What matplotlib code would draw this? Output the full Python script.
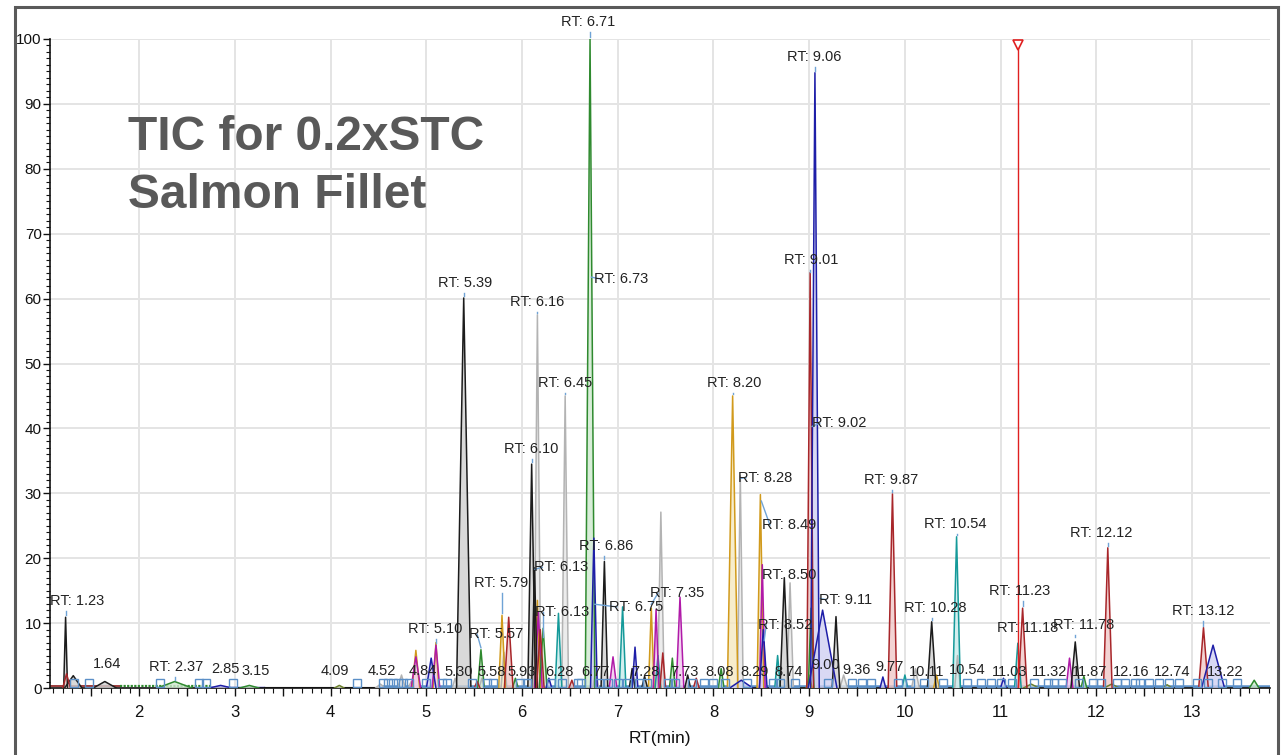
import matplotlib
matplotlib.use("Agg")
import matplotlib.pyplot as plt
from matplotlib.ticker import MultipleLocator, FuncFormatter
from matplotlib.patches import Rectangle
from matplotlib import font_manager

# ---------------- data: chromatogram peaks (apex RT, relative abundance, half base width) ----------------
black_rt = [1.23, 1.31, 1.64, 5.39, 6.10, 6.13, 6.86, 7.15, 7.28, 7.73, 8.74, 9.28, 10.28, 11.78]
black_h = [10.9, 1.9, 1.0, 60.1, 34.5, 18.5, 19.5, 3.0, 1.8, 2.0, 17.0, 11.0, 10.2, 7.1]
black_w = [0.02, 0.09, 0.12, 0.075, 0.04, 0.03, 0.035, 0.03, 0.03, 0.03, 0.045, 0.04, 0.045, 0.045]

red_rt = [1.24, 5.53, 5.86, 6.19, 6.52, 7.47, 7.82, 9.01, 9.87, 11.23, 12.12, 13.12]
red_h = [2.2, 1.0, 10.9, 9.0, 1.2, 5.4, 1.5, 64.0, 29.9, 12.3, 21.6, 9.3]
red_w = [0.04, 0.03, 0.045, 0.04, 0.03, 0.03, 0.03, 0.035, 0.045, 0.045, 0.045, 0.05]

navy_rt = [2.85, 5.05, 6.28, 6.75, 7.18, 8.29, 8.52, 9.06, 9.14, 9.77, 11.03, 13.22]
navy_h = [0.4, 4.6, 1.5, 23.1, 6.3, 1.2, 9.0, 94.8, 12.0, 1.7, 1.5, 6.6]
navy_w = [0.12, 0.05, 0.03, 0.035, 0.03, 0.12, 0.04, 0.045, 0.15, 0.03, 0.03, 0.12]

green_rt = [2.37, 3.15, 5.57, 5.93, 6.22, 6.71, 7.57, 8.08, 9.02, 11.87, 13.65]
green_h = [1.0, 0.4, 5.9, 1.5, 9.2, 100.0, 4.6, 3.0, 12.3, 1.8, 1.2]
green_w = [0.18, 0.10, 0.035, 0.03, 0.04, 0.05, 0.03, 0.03, 0.03, 0.03, 0.05]

magenta_rt = [4.89, 5.10, 6.17, 6.95, 7.40, 7.65, 8.51, 11.72]
magenta_h = [4.8, 6.6, 11.7, 4.8, 12.1, 14.0, 19.0, 4.6]
magenta_w = [0.05, 0.04, 0.04, 0.04, 0.03, 0.04, 0.03, 0.035]

orange_rt = [4.89, 5.10, 5.79, 6.16, 7.35, 8.20, 8.49, 9.00, 10.33]
orange_h = [5.8, 7.0, 11.2, 13.5, 12.3, 45.0, 29.8, 2.0, 2.0]
orange_w = [0.04, 0.03, 0.035, 0.03, 0.03, 0.055, 0.035, 0.03, 0.03]

gray_rt = [4.52, 4.74, 4.84, 5.30, 5.58, 5.81, 6.16, 6.45, 6.77, 7.45, 8.28, 8.80, 9.36, 10.11, 10.55]
gray_h = [0.6, 2.0, 1.0, 1.5, 1.5, 5.5, 57.5, 45.0, 3.0, 27.1, 32.7, 16.2, 2.0, 3.0, 5.0]
gray_w = [0.05, 0.04, 0.03, 0.03, 0.03, 0.03, 0.035, 0.035, 0.03, 0.035, 0.03, 0.035, 0.04, 0.04, 0.03]

teal_rt = [6.38, 7.05, 7.42, 8.67, 10.00, 10.54, 11.18]
teal_h = [11.5, 12.5, 5.0, 5.0, 2.0, 23.3, 6.9]
teal_w = [0.035, 0.035, 0.03, 0.03, 0.03, 0.04, 0.035]

olive_rt = [4.09, 11.32, 12.16, 12.74]
olive_h = [0.4, 0.6, 0.6, 0.5]
olive_w = [0.05, 0.08, 0.08, 0.05]

# peak boundary markers along the baseline
baseline_marks = [1.32, 1.47, 2.22, 2.62, 2.70, 2.98, 4.27, 4.55, 4.60, 4.65, 4.70, 4.76, 4.82,
                  5.00, 5.16, 5.22, 5.48, 5.63, 5.70, 5.98, 6.05, 6.30, 6.42, 6.58, 6.62,
                  6.80, 6.90, 7.00, 7.10, 7.22, 7.30, 7.52, 7.60, 7.78, 7.90, 8.00, 8.12,
                  8.35, 8.62, 8.70, 8.85, 9.20, 9.45, 9.55, 9.65, 9.93, 10.05, 10.20, 10.40,
                  10.65, 10.80, 10.90, 11.00, 11.12, 11.35, 11.50, 11.56, 11.64, 11.82,
                  11.97, 12.05, 12.22, 12.30, 12.40, 12.46, 12.55, 12.65, 12.76, 12.86,
                  13.05, 13.17, 13.31, 13.47]

# peak annotations: RT shown, text position (RT, abundance), "RT:" prefix, leader start (or None)
label_rt = [6.71, 9.06, 6.73, 9.01, 5.39, 6.16, 6.45, 8.20, 9.02, 6.10, 8.28, 9.87, 8.49,
            10.54, 12.12, 6.86, 6.13, 5.79, 8.50, 11.23, 7.35, 9.11, 6.75, 6.13, 11.18,
            11.78, 10.28, 13.12, 5.10, 5.57, 8.52, 1.23, 2.37,
            1.64, 2.85, 3.15, 4.09, 4.52, 4.84, 5.30, 5.58, 5.93, 6.28, 6.77, 7.28, 7.73,
            8.08, 8.29, 8.74, 9.00, 9.36, 9.77, 10.11, 10.54, 11.03, 11.32, 11.87, 12.16,
            12.74, 13.22]
label_x = [6.69, 9.05, 7.03, 9.02, 5.40, 6.16, 6.45, 8.22, 9.31, 6.09, 8.54, 9.86, 8.79,
           10.53, 12.05, 6.88, 6.41, 5.78, 8.79, 11.20, 7.62, 9.38, 7.19, 6.42, 11.28,
           11.87, 10.32, 13.12, 5.09, 5.73, 8.75, 1.35, 2.39,
           1.66, 2.90, 3.22, 4.04, 4.53, 4.96, 5.34, 5.68, 6.00, 6.39, 6.77, 7.29, 7.70,
           8.06, 8.43, 8.78, 9.17, 9.49, 9.84, 10.23, 10.65, 11.09, 11.51, 11.93, 12.36,
           12.79, 13.35]
label_y = [102.6, 97.2, 63.0, 65.9, 62.4, 59.5, 47.0, 47.0, 40.8, 36.8, 32.4, 32.0, 25.1,
           25.3, 23.9, 21.9, 18.6, 16.2, 17.4, 14.9, 14.6, 13.6, 12.5, 11.7, 9.2,
           9.7, 12.3, 11.9, 9.1, 8.3, 9.7, 13.4, 3.2,
           3.7, 2.9, 2.6, 2.6, 2.6, 2.6, 2.5, 2.5, 2.5, 2.5, 2.5, 2.5, 2.5,
           2.5, 2.5, 2.5, 3.6, 2.7, 3.2, 2.5, 2.7, 2.5, 2.5, 2.5, 2.5,
           2.5, 2.5]
label_prefix = [True] * 33 + [False] * 27
leader_from = [(6.71, 100.0), (9.06, 94.8), (6.725, 63.0), (9.01, 63.8), (5.39, 60.1),
               (6.16, 57.5), (6.45, 45.0), (8.20, 45.0), (9.03, 40.0), (6.10, 34.5),
               (8.285, 32.0), (9.87, 29.9), (8.50, 28.5), (10.54, 23.3), (12.12, 21.6),
               (6.86, 19.5), (6.135, 18.0), (5.79, 11.2), None, (11.23, 12.3),
               (7.35, 12.6), (9.11, 13.5), (6.76, 12.6), (6.22, 7.5), None,
               (11.78, 7.6), (10.28, 10.2), (13.12, 9.3), (5.10, 6.6), (5.57, 5.9),
               (8.53, 7.0), (1.23, 10.9), (2.37, 1.0)] + [None] * 27

# ---------------- styles ----------------
trace_colors = {
    "black": "#1c1c1c", "red": "#a8262a", "navy": "#1e1ea8", "green": "#2f8a2f",
    "magenta": "#b01aa8", "orange": "#d19a1c", "gray": "#b3b3b3", "teal": "#159a9a",
    "olive": "#6b7f2a",
}
fill_colors = {
    "black": "#d0d0d0", "red": "#f0c8c8", "navy": "#d0d0f2", "green": "#cfe9cf",
    "magenta": "#efcaee", "orange": "#f6e9c0", "gray": "#e8e8e8", "teal": "#c9ebeb",
    "olive": "#e3e8d2",
}
traces = [
    ("gray", gray_rt, gray_h, gray_w),
    ("olive", olive_rt, olive_h, olive_w),
    ("orange", orange_rt, orange_h, orange_w),
    ("teal", teal_rt, teal_h, teal_w),
    ("magenta", magenta_rt, magenta_h, magenta_w),
    ("green", green_rt, green_h, green_w),
    ("black", black_rt, black_h, black_w),
    ("red", red_rt, red_h, red_w),
    ("navy", navy_rt, navy_h, navy_w),
]

font_candidates = ["Liberation Sans Narrow", "Liberation Sans", "DejaVu Sans"]
available = {f.name for f in font_manager.fontManager.ttflist}
narrow = [f for f in font_candidates if f in available] or ["DejaVu Sans"]
plt.rcParams["font.family"] = narrow

W, H = 1284, 755
fig = plt.figure(figsize=(W / 100, H / 100), dpi=100)
fig.patch.set_facecolor("white")

x0, x1 = 1.067, 13.815
ax = fig.add_axes([50 / W, 67 / H, 1220 / W, 649 / H])
ax.set_xlim(x0, x1)
ax.set_ylim(0, 100)

# grid
for g in range(2, 14):
    ax.axvline(g, color="#e4e4e4", lw=1.4, zorder=0)
for g in range(10, 101, 10):
    ax.axhline(g, color="#e4e4e4", lw=1.4, zorder=0)

# baseline traces
ax.plot([x0, 1.8], [0.3, 0.3], color="#8b1a1a", lw=1.2, zorder=2)
ax.plot([1.8, 2.75], [0.35, 0.35], color="#2f8a2f", lw=1.6, ls=(0, (1, 0.6)), zorder=2)
ax.plot([2.75, 3.3], [0.2, 0.2], color="#1e1ea8", lw=1.0, zorder=2)
ax.plot([3.3, 4.5], [0.1, 0.1], color="#1c1c1c", lw=0.8, zorder=2)
ax.plot([4.5, x1], [0.35, 0.35], color="#5b8fc7", lw=1.8, zorder=2)

# peaks
for name, rts, hs, ws in traces:
    for rt, h, w in zip(rts, hs, ws):
        xs = [rt - w, rt, rt + w]
        ys = [0, h, 0]
        ax.fill(xs, ys, color=fill_colors[name], alpha=0.8, lw=0, zorder=3)
        ax.plot(xs, ys, color=trace_colors[name], lw=1.1, zorder=4)

# peak boundary markers
ax.plot(baseline_marks, [0.8] * len(baseline_marks), ls="none", marker="s", ms=6,
        mfc="none", mec="#5b8fc7", mew=1.0, zorder=5)

# cursor line with marker
cursor_rt = 11.18
ax.plot([cursor_rt, cursor_rt], [0, 99], color="#e02020", lw=1.0, zorder=6)
ax.plot([cursor_rt], [99], marker="v", ms=7, mfc="white", mec="#e02020", mew=1.2,
        zorder=7, clip_on=False)

# annotations
for rt, lx, ly, pre, src in zip(label_rt, label_x, label_y, label_prefix, leader_from):
    txt = f"RT: {rt:.2f}" if pre else f"{rt:.2f}"
    ax.text(lx, ly, txt, fontsize=10.5, color="#222222", ha="center", va="center",
            zorder=8, clip_on=False)
    if src is not None:
        sx, sy = src
        tx = lx - 0.2 if abs(lx - sx) > 0.15 else sx
        ty = ly - 1.5 if abs(lx - sx) <= 0.15 else ly
        ax.plot([sx, tx], [sy + 0.3, ty], color="#6fa3d6", lw=1.0, zorder=7, clip_on=False)

# axes styling
for s in ("top", "right"):
    ax.spines[s].set_visible(False)
for s in ("left", "bottom"):
    ax.spines[s].set_color("#111111")
    ax.spines[s].set_linewidth(1.2)
ax.yaxis.set_major_locator(MultipleLocator(10))
ax.yaxis.set_minor_locator(MultipleLocator(1))
ax.xaxis.set_major_locator(MultipleLocator(0.5))
ax.xaxis.set_minor_locator(MultipleLocator(0.1))
ax.xaxis.set_major_formatter(FuncFormatter(lambda v, p: f"{int(round(v))}" if abs(v - round(v)) < 1e-6 else ""))
ax.tick_params(axis="y", which="major", length=5, width=1, labelsize=11, pad=1, colors="#111111")
ax.tick_params(axis="y", which="minor", length=3, width=0.8, colors="#111111")
ax.tick_params(axis="x", which="major", length=6, width=1, labelsize=12, pad=6, colors="#111111")
ax.tick_params(axis="x", which="minor", length=3.5, width=0.8, colors="#111111")
ax.set_xlabel("RT(min)", fontsize=12.5, color="#111111", labelpad=8)

# outer frame
fig.add_artist(Rectangle((15 / W, -0.05), (1278 - 15) / W, 1 - 7 / H + 0.05,
                         transform=fig.transFigure, fill=False, ec="#5a5a5a", lw=2.2))

# title
title_font = ["Liberation Sans", "DejaVu Sans"]
fig.text(128 / W, 1 - 150 / H, "TIC for 0.2xSTC", fontsize=34.5, fontweight="bold",
         color="#595959", family=title_font, va="baseline")
fig.text(128 / W, 1 - 208 / H, "Salmon Fillet", fontsize=34.5, fontweight="bold",
         color="#595959", family=title_font, va="baseline")

fig.savefig("out.png", dpi=100)
